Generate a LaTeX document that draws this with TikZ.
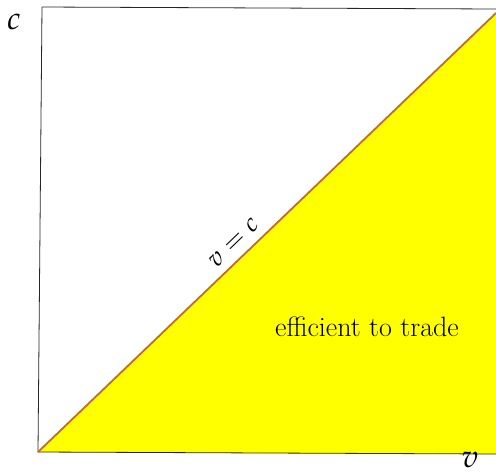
\documentclass[tikz,border=0pt]{standalone}
\usepackage{mathpazo}
\definecolor{pureyellow}{RGB}{255,255,0}
\definecolor{diagcol}{RGB}{195,110,30}
\begin{document}
\begin{tikzpicture}[x=1pt,y=-1pt,
  axis/.style={draw=black!85,line width=0.8pt},
  diag/.style={draw=diagcol,line width=1.8pt},
  lbl/.style={inner sep=0pt,font=\fontsize{32}{34}\selectfont}]
\useasboundingbox (0,0) rectangle (496,475);
\coordinate (O) at (38,452);
\coordinate (TL) at (42,7);
\coordinate (TR) at (496,9);
\coordinate (BR) at (496,454);
\coordinate (D) at (496,13);
\fill[pureyellow] (O) -- (D) -- (BR) -- cycle;
\draw[axis] (TL) -- (O) -- (BR);
\draw[axis] (TL) -- (TR);
\draw[diag] (O) -- (D);
\node[lbl] (c) at (14,22) {$c$};
\node[lbl] (v) at (470,460) {$v$};
\node[inner sep=0pt,rotate=44,font=\fontsize{26}{28}\selectfont] (vc) at (234,243) {$v=c$};
\node[inner sep=0pt,font=\fontsize{28}{30}\selectfont] (eff) at (367,327) {efficient to trade};
\end{tikzpicture}
\end{document}
